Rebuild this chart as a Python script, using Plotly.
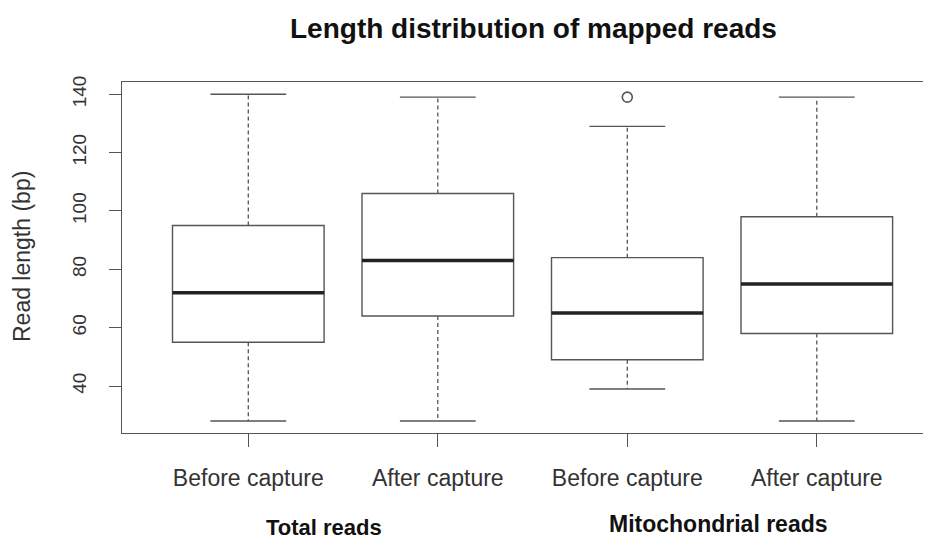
import plotly.graph_objects as go

# ---- data ----
categories = ["Before capture", "After capture", "Before capture", "After capture"]
groups = ["Total reads", "Mitochondrial reads"]
lower_whisker = [28, 28, 39, 28]
q1 = [55, 64, 49, 58]
median = [72, 83, 65, 75]
q3 = [95, 106, 84, 98]
upper_whisker = [140, 139, 129, 139]
outliers = [[], [], [139], []]
y_ticks = [40, 60, 80, 100, 120, 140]

positions = list(range(1, len(categories) + 1))
LINE = "#555555"
OFF = 8  # page body margin of the browser
W, H = 931 - OFF, 539 - OFF
L, T, B = 122 - OFF, 82 - OFF, 433 - OFF  # plot area pixels in figure coords

fig = go.Figure()

# dashed whiskers
wx, wy = [], []
for p, lo, a, b, hi in zip(positions, lower_whisker, q1, q3, upper_whisker):
    wx += [p, p, None, p, p, None]
    wy += [b, hi, None, a, lo, None]
fig.add_trace(go.Scatter(x=wx, y=wy, mode="lines", hoverinfo="skip",
                         line=dict(color=LINE, width=1.3, dash="4px,3px"), showlegend=False))
# whisker caps
cx, cy = [], []
for p, lo, hi in zip(positions, lower_whisker, upper_whisker):
    cx += [p - 0.2, p + 0.2, None, p - 0.2, p + 0.2, None]
    cy += [hi, hi, None, lo, lo, None]
fig.add_trace(go.Scatter(x=cx, y=cy, mode="lines", hoverinfo="skip",
                         line=dict(color=LINE, width=1.4), showlegend=False))

# boxes
for p, a, m, b in zip(positions, q1, median, q3):
    fig.add_trace(go.Box(x=[p], q1=[a], median=[m], q3=[b], lowerfence=[a], upperfence=[b],
                         width=0.8, fillcolor="white", line=dict(color=LINE, width=1.4),
                         boxpoints=False, showlegend=False))

# thick medians
mx, my = [], []
for p, m in zip(positions, median):
    mx += [p - 0.4, p + 0.4, None]
    my += [m, m, None]
fig.add_trace(go.Scatter(x=mx, y=my, mode="lines", hoverinfo="skip",
                         line=dict(color="#222222", width=3.5), showlegend=False))

# outliers
ox, oy = [], []
for p, outs in zip(positions, outliers):
    for o in outs:
        ox.append(p); oy.append(o)
fig.add_trace(go.Scatter(x=ox, y=oy, mode="markers", showlegend=False,
                         marker=dict(symbol="circle-open", size=10, color=LINE, line=dict(width=1.6))))

plot_w = W - L
px_per_unit = 189.5
x0 = 1 - (248.3 - OFF - L) / px_per_unit
x1 = x0 + plot_w / px_per_unit

fig.update_layout(
    width=W, height=H,
    margin=dict(l=L, r=0, t=T, b=H - B, pad=0),
    paper_bgcolor="white", plot_bgcolor="white",
    font=dict(family="Liberation Sans, Arial, sans-serif", color="#222222"),
    xaxis=dict(range=[x0, x1], tickvals=positions, ticktext=categories,
               showline=True, mirror=True, linecolor=LINE, linewidth=1.3,
               ticks="outside", ticklen=13, tickcolor=LINE, tickwidth=1.3,
               showgrid=False, zeroline=False, tickfont=dict(size=23, color="#333333"),
               ticklabelstandoff=11),
    yaxis=dict(range=[23.9, 144.2], tickvals=y_ticks,
               showline=True, mirror=False, linecolor=LINE, linewidth=1.3,
               ticks="outside", ticklen=12, tickcolor=LINE, tickwidth=1.3,
               showgrid=False, zeroline=False, tickangle=-90,
               tickfont=dict(size=19, color="#333333"), ticklabelstandoff=15),
)

def px_x(px):
    return (px - OFF - L) / plot_w

def px_y(py):
    return 1 - (py - OFF - T) / (B - T)

ann = [
    dict(text="<b>Length distribution of mapped reads</b>", x=px_x(533), y=px_y(28), size=28, color="#111111", angle=0),
    dict(text="Read length (bp)", x=px_x(22), y=px_y(257), size=23, color="#333333", angle=-90),
    dict(text="<b>" + groups[0] + "</b>", x=px_x(324), y=px_y(527), size=22, color="#111111", angle=0),
    dict(text="<b>" + groups[1] + "</b>", x=px_x(718), y=px_y(524), size=23, color="#111111", angle=0),
]
for a in ann:
    fig.add_annotation(text=a["text"], x=a["x"], y=a["y"], xref="paper", yref="paper",
                       xanchor="center", yanchor="middle", showarrow=False, textangle=a["angle"],
                       font=dict(size=a["size"], color=a["color"]))

fig.write_html("out.html")
